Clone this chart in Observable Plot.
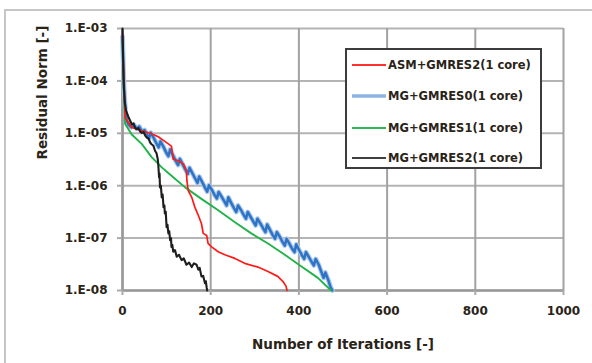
<!DOCTYPE html>
<html><head><meta charset="utf-8">
<script src="https://cdn.jsdelivr.net/npm/d3@7"></script>
<script src="https://cdn.jsdelivr.net/npm/@observablehq/plot@0.6"></script>
<style>
body{margin:0;background:#fff;}
#wrap{position:relative;width:592px;height:363px;overflow:hidden;background:#fff;}
#frame{position:absolute;left:4px;top:9px;width:700px;height:500px;border-top:2px solid #c6c6c6;border-left:2px solid #c6c6c6;}
#chart{position:absolute;left:0;top:0;}
#legend{position:absolute;left:345px;top:48px;width:193px;height:117px;border:2px solid #3c3c3c;background:#fff;font-family:"DejaVu Sans",sans-serif;font-weight:bold;font-size:11.5px;color:#2a2418;}
.row{position:absolute;left:5px;height:20px;display:flex;align-items:center;white-space:nowrap;}
.row svg{margin-right:2px;}
</style></head><body>
<div id="wrap"><div id="frame"></div><div id="chart"></div><div id="legend"></div></div>
<script>
const seriesNames = ["ASM+GMRES2(1 core)", "MG+GMRES0(1 core)", "MG+GMRES1(1 core)", "MG+GMRES2(1 core)"];
const seriesColors = ["#ff1a1a", "#2f74c4", "#1fb34a", "#1e1e1e"];
const legendColors = ["#ff3030", "#8db4e2", "#2fb85a", "#404040"];
const xTicks = [0, 200, 400, 600, 800, 1000];
const yTicks = [1e-3, 1e-4, 1e-5, 1e-6, 1e-7, 1e-8];
const xTitle = "Number of Iterations [-]";
const yTitle = "Residual Norm [-]";

// ASM+GMRES2 (red)
const asmIter = [0,2,4,6,21,44,66,81,96,111,115,127,138,145,146,149,157,164,172,179,183,191,194,202,217,232,255,277,307,330,352,364,371,373];
const asmRes = [8e-4,2e-4,6e-5,2.0e-5,1.29e-5,1.12e-5,9.8e-6,8.6e-6,7.0e-6,5.7e-6,3.2e-6,3.0e-6,2.6e-6,1.94e-6,1.26e-6,8.1e-7,6.0e-7,3.9e-7,2.7e-7,1.9e-7,1.23e-7,1.12e-7,7.9e-8,6.8e-8,5.5e-8,4.8e-8,4.1e-8,3.3e-8,2.8e-8,2.3e-8,1.86e-8,1.48e-8,1.2e-8,1.0e-8];
// MG+GMRES0 (blue)
const mg0Iter = [0,2,4,7,10,14,20,26,32,38,44,50,56,60,64,71,77,82,86,93,99,104,108,115,121,126,130,137,143,148,152,159,165,170,174,181,187,192,196,203,209,214,218,225,231,236,240,247,253,258,262,269,275,280,284,291,297,302,306,313,319,324,328,335,341,346,350,357,363,368,372,379,385,390,394,401,407,412,416,423,429,434,438,445,451,456,460,467,472,476];
const mg0Res = [7e-4,1.8e-4,6e-5,2.5e-5,1.7e-5,1.45e-5,1.3e-5,1.45e-5,1.22e-5,1.35e-5,1.08e-5,1.15e-5,9.4e-6,8.0e-6,1.03e-5,8.1e-6,6.4e-6,5.4e-6,7.0e-6,5.5e-6,4.3e-6,3.65e-6,4.9e-6,3.7e-6,2.95e-6,2.48e-6,3.25e-6,2.5e-6,2.0e-6,1.68e-6,2.2e-6,1.7e-6,1.36e-6,1.13e-6,1.5e-6,1.16e-6,9.2e-7,7.7e-7,1.02e-6,8.2e-7,6.6e-7,5.7e-7,7.6e-7,6.1e-7,5.0e-7,4.2e-7,6.0e-7,4.6e-7,3.7e-7,3.15e-7,4.2e-7,3.4e-7,2.75e-7,2.35e-7,3.15e-7,2.5e-7,2.05e-7,1.74e-7,2.35e-7,1.88e-7,1.53e-7,1.3e-7,1.82e-7,1.4e-7,1.13e-7,9.7e-8,1.3e-7,1.05e-7,8.4e-8,7.2e-8,9.7e-8,7.7e-8,6.2e-8,5.4e-8,7.6e-8,5.8e-8,4.7e-8,4.0e-8,5.4e-8,4.3e-8,3.5e-8,3.0e-8,4.0e-8,3.1e-8,2.25e-8,1.75e-8,2.2e-8,1.55e-8,1.15e-8,1.0e-8];
// MG+GMRES1 (green)
const mg1Iter = [0,2,4,6,21,44,66,89,111,142,179,217,255,292,330,368,405,443,473];
const mg1Res = [6e-4,1.2e-4,3.5e-5,1.5e-5,9.5e-6,6.2e-6,3.5e-6,2.24e-6,1.55e-6,9.3e-7,5.6e-7,3.4e-7,2.0e-7,1.23e-7,7.9e-8,4.8e-8,2.9e-8,1.74e-8,1.0e-8];
// MG+GMRES2 (black)
const mg2Iter = [0,2,3,5,8,14,18,21,25,28,32,36,40,44,48,52,55,59,63,66,70,74,77,80,81,83,84,85,87,89,91,93,95,96,98,100,102,104,106,108,110,111,113,115,119,123,128,134,139,145,151,157,162,168,172,175,179,183,187,189,191,192];
const mg2Res = [1e-3,1.5e-4,8e-5,4e-5,2.7e-5,2.0e-5,1.7e-5,1.48e-5,1.55e-5,1.3e-5,1.2e-5,1.25e-5,1.08e-5,1.02e-5,1.05e-5,8.9e-6,8.3e-6,8.0e-6,6.6e-6,6.2e-6,5.8e-6,4.6e-6,4.2e-6,3.2e-6,2.6e-6,1.44e-6,1.7e-6,9.3e-7,1.0e-6,6e-7,6.8e-7,3.9e-7,4.2e-7,2.95e-7,3.2e-7,1.62e-7,1.8e-7,1.23e-7,1.35e-7,9.1e-8,1.0e-7,6.8e-8,7.4e-8,5.5e-8,5.9e-8,4.4e-8,4.8e-8,3.8e-8,4.1e-8,3.1e-8,3.4e-8,2.8e-8,3.3e-8,3.1e-8,2.5e-8,2.7e-8,1.86e-8,1.9e-8,1.38e-8,1.5e-8,1.12e-8,1.0e-8];

const toRows = (xs, ys) => xs.map((x, i) => ({x, y: ys[i]}));
const red = toRows(asmIter, asmRes);
const blue = toRows(mg0Iter, mg0Res);
const green = toRows(mg1Iter, mg1Res);
const black = toRows(mg2Iter, mg2Res);

const fmt = d => "1.E-" + String(Math.round(-Math.log10(d))).padStart(2, "0");
const font = {fontFamily: "DejaVu Sans", fontWeight: "bold"};

const plot = Plot.plot({
  width: 592,
  height: 363,
  marginLeft: 122,
  marginRight: 29,
  marginTop: 28,
  marginBottom: 73,
  style: {background: "transparent", fontFamily: "DejaVu Sans", color: "#2a2418"},
  x: {domain: [0, 1000]},
  y: {type: "log", domain: [1e-8, 1e-3]},
  marks: [
    Plot.gridY(yTicks, {stroke: "#b4b4b4", strokeOpacity: 1, strokeWidth: 2}),
    Plot.gridX(xTicks, {stroke: "#a2a2a2", strokeOpacity: 1, strokeWidth: 2}),
    Plot.ruleY([1e-8], {stroke: "#999", strokeWidth: 2.5}),
    Plot.ruleX([0], {stroke: "#999", strokeWidth: 2.5}),
    Plot.axisX(xTicks, {anchor: "bottom", tickSize: 5, tickPadding: 11, tickFormat: d => String(d), stroke: "#aaa", strokeWidth: 2, fill: "#2a2418", fontSize: 12, ...font, label: null}),
    Plot.axisY(yTicks, {anchor: "left", tickSize: 5, tickPadding: 10, tickFormat: fmt, stroke: "#aaa", strokeWidth: 2, fill: "#2a2418", fontSize: 12, ...font, label: null}),
    Plot.line(blue, {x: "x", y: "y", stroke: "#a9c8ec", strokeWidth: 4.8}),
    Plot.line(blue, {x: "x", y: "y", stroke: seriesColors[1], strokeWidth: 2.5}),
    Plot.line(green, {x: "x", y: "y", stroke: seriesColors[2], strokeWidth: 1.9}),
    Plot.line(red, {x: "x", y: "y", stroke: seriesColors[0], strokeWidth: 1.7}),
    Plot.line(black, {x: "x", y: "y", stroke: seriesColors[3], strokeWidth: 2.1}),
    Plot.text([xTitle], {frameAnchor: "bottom", dy: 58, fontSize: 13.5, ...font, fill: "#2a2418"}),
    Plot.text([yTitle], {frameAnchor: "left", dx: -80, rotate: -90, fontSize: 13.5, ...font, fill: "#2a2418"})
  ]
});
document.getElementById("chart").appendChild(plot);

// legend
const legend = d3.select("#legend");
const rowTops = [5, 36, 68, 98];
seriesNames.forEach((name, i) => {
  const row = legend.append("div").attr("class", "row").style("top", rowTops[i] + "px");
  const s = row.append("svg").attr("width", 34).attr("height", 8);
  s.append("line").attr("x1", 0).attr("x2", 34).attr("y1", 4).attr("y2", 4)
    .attr("stroke", legendColors[i]).attr("stroke-width", i === 1 ? 3.5 : 2);
  row.append("span").text(name);
});
</script>
</body></html>
